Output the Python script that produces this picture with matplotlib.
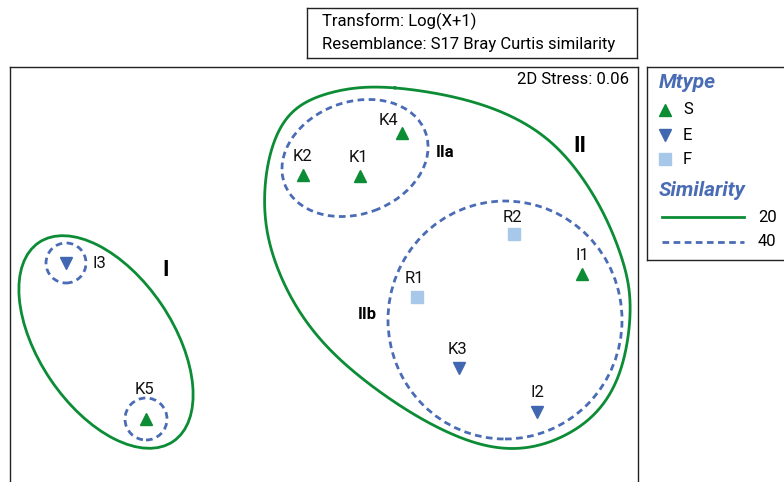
import numpy as np
import matplotlib.pyplot as plt
from matplotlib.patches import Ellipse, Circle
from matplotlib.lines import Line2D

plt.rcParams['font.family'] = ['Roboto', 'DejaVu Sans']

# nMDS coordinates of the samples
names = ['I3', 'K5', 'K4', 'K2', 'K1', 'R2', 'I1', 'R1', 'K3', 'I2']
mtype = ['E', 'S', 'S', 'S', 'S', 'F', 'S', 'F', 'E', 'E']
x = [-1.29, -0.89, 0.39, -0.105, 0.18, 0.95, 1.29, 0.465, 0.675, 1.065]
y = [0.06, -0.72, 0.71, 0.50, 0.495, 0.205, 0.005, -0.11, -0.465, -0.685]
# label offsets (points)
lab_dx = [24, -1, -10, 0, -1, -1, 0, -2, -1, 0]
lab_dy = [0, 21, 9, 13, 13, 12, 13, 13, 13, 14]

# 20% similarity outline of group II (control points for smooth closed curve)
g2_x = [0.345, 0.78, 1.115, 1.345, 1.49, 1.535, 1.48, 1.33, 1.08, 0.82, 0.53,
        0.23, -0.02, -0.195, -0.295, -0.28, -0.17, 0.055]
g2_y = [0.94, 0.86, 0.69, 0.41, 0.09, -0.175, -0.50, -0.725, -0.855, -0.86, -0.745,
        -0.55, -0.325, -0.06, 0.25, 0.575, 0.815, 0.92]

green = '#0b8c35'
blue = '#4267b2'
dblue = '#4a6cb5'
lblue = '#a8c8ea'
styles = {'S': ('^', green), 'E': ('v', blue), 'F': ('s', lblue)}
fs = 12


def closed_spline(px, py, n=40, smooth=12):
    px = np.asarray(px); py = np.asarray(py)
    k = len(px)
    out_x, out_y = [], []
    t = np.linspace(0, 1, n, endpoint=False)
    for i in range(k):
        p0, p1, p2, p3 = [(px[(i + j) % k], py[(i + j) % k]) for j in (-1, 0, 1, 2)]
        for c in range(2):
            a, b, cc, d = p0[c], p1[c], p2[c], p3[c]
            v = 0.5 * (2 * b + (-a + cc) * t + (2 * a - 5 * b + 4 * cc - d) * t ** 2
                       + (-a + 3 * b - 3 * cc + d) * t ** 3)
            (out_x if c == 0 else out_y).append(v)
    xs = np.concatenate(out_x); ys = np.concatenate(out_y)
    # periodic gaussian smoothing to remove small wobbles
    w = np.exp(-0.5 * (np.arange(-3 * smooth, 3 * smooth + 1) / smooth) ** 2)
    w /= w.sum()
    pad = 3 * smooth
    xs = np.convolve(np.concatenate([xs[-pad:], xs, xs[:pad]]), w, mode='valid')
    ys = np.convolve(np.concatenate([ys[-pad:], ys, ys[:pad]]), w, mode='valid')
    return np.append(xs, xs[0]), np.append(ys, ys[0])


fig = plt.figure(figsize=(7.84, 4.82), dpi=100)
ax = fig.add_axes([10 / 784, -24 / 482, 628 / 784, 439 / 482])
ax.set_xlim(-1.57, 1.57)
ax.set_ylim(-1.155, 1.04)
ax.set_xticks([])
ax.set_yticks([])
for s in ax.spines.values():
    s.set_linewidth(1.0)
    s.set_color('#222222')

lw = 2.0
dash = (0, (2.4, 1.6))

# 20% groups
ax.add_patch(Ellipse((-1.09, -0.335), 1.20, 0.67, angle=-56, fill=False, ec=green, lw=lw))
sx, sy = closed_spline(g2_x, g2_y)
ax.plot(sx, sy, color=green, lw=lw)

# 40% groups
ax.add_patch(Circle((-1.29, 0.06), 0.10, fill=False, ec=dblue, lw=lw, ls=dash))
ax.add_patch(Circle((-0.89, -0.72), 0.105, fill=False, ec=dblue, lw=lw, ls=dash))
ax.add_patch(Ellipse((0.155, 0.585), 0.75, 0.56, angle=20, fill=False, ec=dblue, lw=lw, ls=dash))
ax.add_patch(Ellipse((0.905, -0.225), 1.17, 1.19, fill=False, ec=dblue, lw=lw, ls=dash))

for i in range(len(names)):
    m, c = styles[mtype[i]]
    ax.plot(x[i], y[i], marker=m, color=c, ms=9 if m != 's' else 8, ls='none', zorder=5)
    ax.annotate(names[i], (x[i], y[i]), xytext=(lab_dx[i], lab_dy[i]), textcoords='offset points',
                ha='center', va='center', fontsize=fs, color='#111111')

ax.text(-0.79, 0.025, 'I', fontsize=16, fontweight='bold', ha='center', va='center')
ax.text(1.28, 0.645, 'II', fontsize=16, fontweight='bold', ha='center', va='center')
ax.text(0.605, 0.615, 'IIa', fontsize=fs, fontweight='bold', ha='center', va='center')
ax.text(0.215, -0.195, 'IIb', fontsize=fs, fontweight='bold', ha='center', va='center')
ax.text(0.985, 0.972, '2D Stress: 0.06', transform=ax.transAxes, ha='right', va='center',
        fontsize=fs)

# header box
hb = fig.add_axes([307 / 784, 1 - 58 / 482, 330 / 784, 50 / 482])
hb.set_xticks([]); hb.set_yticks([])
for s in hb.spines.values():
    s.set_linewidth(1.0); s.set_color('#222222')
hb.text(0.045, 0.74, 'Transform: Log(X+1)', transform=hb.transAxes, va='center', fontsize=fs)
hb.text(0.045, 0.27, 'Resemblance: S17 Bray Curtis similarity', transform=hb.transAxes,
        va='center', fontsize=fs)

# legend box
lg = fig.add_axes([647 / 784, 1 - 260 / 482, 160 / 784, 193 / 482])
lg.set_xlim(0, 160); lg.set_ylim(193, 0)
lg.set_xticks([]); lg.set_yticks([])
for s in lg.spines.values():
    s.set_linewidth(1.0); s.set_color('#222222')
lg.text(12, 15, 'Mtype', color=dblue, fontsize=15, fontstyle='italic', fontweight='bold', va='center')
for yy, key in zip([43, 68, 92], ['S', 'E', 'F']):
    m, c = styles[key]
    lg.plot(18, yy, marker=m, color=c, ms=9 if m != 's' else 8, ls='none')
    lg.text(36, yy, key, fontsize=fs, va='center')
lg.text(12, 124, 'Similarity', color=dblue, fontsize=15, fontstyle='italic', fontweight='bold',
        va='center')
lg.add_line(Line2D([15, 97], [150, 150], color=green, lw=lw))
lg.add_line(Line2D([15, 97], [175, 175], color=dblue, lw=lw, ls=dash))
lg.text(111, 150, '20', fontsize=fs, va='center')
lg.text(111, 175, '40', fontsize=fs, va='center')

fig.savefig('out.png', dpi=100)
